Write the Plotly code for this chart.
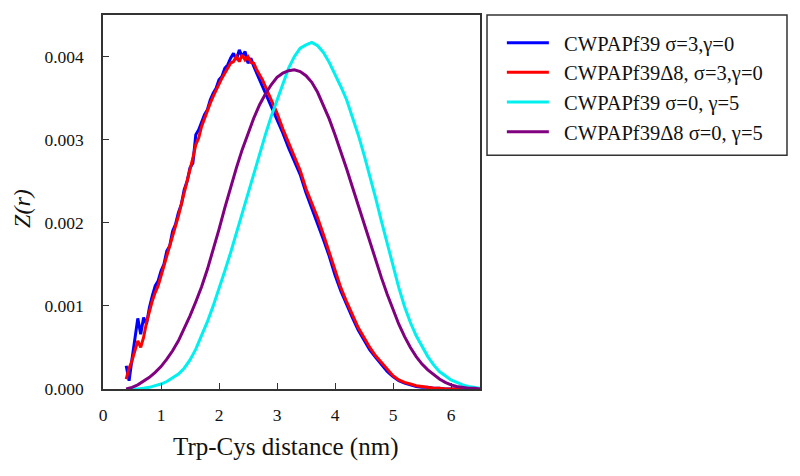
import plotly.graph_objects as go

# ---- data ----
x_blue = [0.40, 0.45, 0.50, 0.55, 0.60, 0.65, 0.70, 0.75, 0.80, 0.85, 0.90, 0.95,
          1.00, 1.05, 1.10, 1.15, 1.20, 1.25, 1.30, 1.35, 1.40, 1.45, 1.50, 1.55,
          1.60, 1.65, 1.70, 1.75, 1.80, 1.85, 1.90, 1.95, 2.00, 2.05, 2.10, 2.15,
          2.20, 2.25, 2.30, 2.35, 2.40, 2.45, 2.50, 2.55, 2.60, 2.65, 2.70, 2.75,
          2.80, 2.85, 2.90, 2.95, 3.00,
          3.1, 3.2, 3.3, 3.4, 3.5, 3.6, 3.7, 3.8, 3.9, 4.0, 4.1, 4.2, 4.3, 4.4,
          4.5, 4.6, 4.7, 4.8, 4.9, 5.0, 5.1, 5.2, 5.3, 5.4, 5.5, 5.6, 5.7, 5.8,
          5.9, 6.0, 6.1, 6.2, 6.3, 6.4, 6.5]
y_blue = [0.00028, 0.00010, 0.00036, 0.00058, 0.00085, 0.00066, 0.00086, 0.00078,
          0.00098, 0.00112, 0.00124, 0.00130, 0.00142, 0.00150, 0.00166, 0.00172,
          0.00190, 0.00198, 0.00212, 0.00222, 0.00240, 0.00250, 0.00266, 0.00272,
          0.00306, 0.00312, 0.00322, 0.00330, 0.00336, 0.00348, 0.00356, 0.00362,
          0.00372, 0.00376, 0.00386, 0.00390, 0.00398, 0.00404, 0.00396, 0.00408,
          0.00400, 0.00406, 0.00392, 0.00398, 0.00388, 0.00380, 0.00372, 0.00366,
          0.00356, 0.00350, 0.00340, 0.00334, 0.00326,
          0.00308, 0.00290, 0.00274, 0.00258, 0.00236, 0.00218, 0.00200, 0.00180,
          0.00160, 0.00137, 0.00118, 0.00101, 0.00086, 0.00071, 0.00059, 0.00047,
          0.00038, 0.00030, 0.00021, 0.00015, 0.00010, 0.00007, 0.00005, 0.00003,
          0.00002, 0.00002, 0.00001, 0.00001, 0.0, 0.0, 0.0, 0.0, 0.0, 0.0, 0.0]

x_red = list(x_blue)
y_red = [0.00012, 0.00025, 0.00034, 0.00045, 0.00058, 0.00050, 0.00062, 0.00080,
         0.00094, 0.00106, 0.00116, 0.00124, 0.00136, 0.00148, 0.00160, 0.00170,
         0.00184, 0.00194, 0.00208, 0.00222, 0.00236, 0.00250, 0.00262, 0.00278,
         0.00294, 0.00302, 0.00316, 0.00326, 0.00334, 0.00344, 0.00352, 0.00360,
         0.00366, 0.00374, 0.00380, 0.00386, 0.00392, 0.00394, 0.00400, 0.00394,
         0.00402, 0.00396, 0.00400, 0.00393, 0.00392, 0.00384, 0.00378, 0.00372,
         0.00364, 0.00356, 0.00348, 0.00340, 0.00332,
         0.00313, 0.00296, 0.00280, 0.00263, 0.00241, 0.00224, 0.00206, 0.00186,
         0.00165, 0.00142, 0.00122, 0.00105, 0.00090, 0.00074, 0.00062, 0.00050,
         0.00040, 0.00032, 0.00023, 0.00016, 0.00011, 0.00008, 0.00006, 0.00004,
         0.00003, 0.00002, 0.00001, 0.00001, 0.0, 0.0, 0.0, 0.0, 0.0, 0.0, 0.0]

x_cyan = [0.5, 0.6, 0.7, 0.8, 0.9, 1.0, 1.1, 1.2, 1.3, 1.4, 1.5, 1.6, 1.7, 1.8,
          1.9, 2.0, 2.1, 2.2, 2.3, 2.4, 2.5, 2.6, 2.7, 2.8, 2.9, 3.0, 3.1, 3.2,
          3.3, 3.4, 3.5, 3.6, 3.7, 3.8, 3.9, 4.0, 4.1, 4.2, 4.3, 4.4, 4.5, 4.6,
          4.7, 4.8, 4.9, 5.0, 5.1, 5.2, 5.3, 5.4, 5.5, 5.6, 5.7, 5.8, 5.9, 6.0,
          6.1, 6.2, 6.3, 6.4, 6.5]
y_cyan = [0.0, 0.0, 0.00001, 0.00002, 0.00004, 0.00006, 0.00009, 0.00013, 0.00018,
          0.00025, 0.00035, 0.00048, 0.00064, 0.00081, 0.00100, 0.00120, 0.00142,
          0.00164, 0.00188, 0.00212, 0.00236, 0.00260, 0.00284, 0.00306, 0.00328,
          0.00348, 0.00368, 0.00386, 0.00400, 0.00410, 0.00414, 0.00417, 0.00413,
          0.00405, 0.00393, 0.00379, 0.00364, 0.00348, 0.00328, 0.00306, 0.00282,
          0.00257, 0.00230, 0.00202, 0.00175, 0.00148, 0.00122, 0.00099, 0.00080,
          0.00064, 0.00051, 0.00039, 0.00029, 0.00021, 0.00016, 0.00011, 0.00008,
          0.00005, 0.00003, 0.00002, 0.00001]

x_purple = [0.4, 0.5, 0.6, 0.7, 0.8, 0.9, 1.0, 1.1, 1.2, 1.3, 1.4, 1.5, 1.6, 1.7,
            1.8, 1.9, 2.0, 2.1, 2.2, 2.3, 2.4, 2.5, 2.6, 2.7, 2.8, 2.9, 3.0, 3.1,
            3.2, 3.3, 3.4, 3.5, 3.6, 3.7, 3.8, 3.9, 4.0, 4.1, 4.2, 4.3, 4.4, 4.5,
            4.6, 4.7, 4.8, 4.9, 5.0, 5.1, 5.2, 5.3, 5.4, 5.5, 5.6, 5.7, 5.8, 5.9,
            6.0, 6.1, 6.2, 6.3, 6.4, 6.5]
y_purple = [0.0, 0.00002, 0.00005, 0.00009, 0.00014, 0.00020, 0.00027, 0.00036,
            0.00046, 0.00058, 0.00072, 0.00088, 0.00105, 0.00123, 0.00144, 0.00167,
            0.00192, 0.00218, 0.00243, 0.00266, 0.00288, 0.00308, 0.00326, 0.00342,
            0.00355, 0.00366, 0.00375, 0.00380, 0.00383, 0.00384, 0.00382, 0.00377,
            0.00369, 0.00357, 0.00342, 0.00325, 0.00306, 0.00286, 0.00265, 0.00243,
            0.00221, 0.00199, 0.00177, 0.00155, 0.00134, 0.00114, 0.00095, 0.00078,
            0.00063, 0.00050, 0.00039, 0.00030, 0.00023, 0.00017, 0.00012, 0.00008,
            0.00005, 0.00003, 0.00002, 0.00001, 0.00001, 0.0]

names = ["CWPAPf39 σ=3,γ=0", "CWPAPf39Δ8, σ=3,γ=0",
         "CWPAPf39 σ=0, γ=5", "CWPAPf39Δ8 σ=0, γ=5"]
colors = ["#0000FF", "#FF0000", "#00F0F0", "#800080"]
x_ticks = [0, 1, 2, 3, 4, 5, 6]
y_ticks = [0.000, 0.001, 0.002, 0.003, 0.004]

FONT = "Liberation Serif, Times New Roman, serif"
PAD = "\u00a0\u00a0"

fig = go.Figure()
series = [(x_blue, y_blue), (x_red, y_red), (x_cyan, y_cyan), (x_purple, y_purple)]
for (xs, ys), nm, col in zip(series, names, colors):
    fig.add_trace(go.Scatter(x=xs, y=ys, mode="lines", name=PAD + nm,
                             line=dict(color=col, width=3)))

axis_common = dict(showline=True, linecolor="#333333", linewidth=1.5, mirror=True,
                   ticks="inside", ticklen=6, tickwidth=1.3, tickcolor="#333333",
                   showgrid=False, zeroline=False,
                   tickfont=dict(family=FONT, size=17.5, color="#111111"))

fig.update_xaxes(range=[0, 6.5], tickvals=x_ticks, ticklabelstandoff=9, **axis_common)
fig.update_yaxes(range=[0, 0.0045], tickvals=y_ticks, tickformat=".3f",
                 ticklabelstandoff=14, **axis_common)

fig.add_annotation(text="Trp-Cys distance (nm)", xref="paper", yref="paper",
                   x=0.483, y=-0.155, xanchor="center", yanchor="middle",
                   showarrow=False, font=dict(family=FONT, size=25, color="#111111"))
fig.add_annotation(text="<i>Z(r)</i>", xref="paper", yref="paper",
                   x=-0.215, y=0.484, xanchor="center", yanchor="middle",
                   showarrow=False, textangle=-90,
                   font=dict(family=FONT, size=24, color="#111111"))

# legend frame
fig.add_shape(type="rect", xref="paper", yref="paper",
              x0=1.0186, x1=1.8143, y0=0.625, y1=1.0,
              line=dict(color="#333333", width=1.5), fillcolor="rgba(0,0,0,0)")

fig.update_layout(
    width=792, height=468,
    margin=dict(l=95, r=320, t=5, b=87),
    paper_bgcolor="white", plot_bgcolor="white",
    showlegend=True,
    legend=dict(x=1.058, y=0.979, xanchor="left", yanchor="top",
                bgcolor="rgba(0,0,0,0)", borderwidth=0,
                font=dict(family=FONT, size=20.5, color="#111111"),
                itemwidth=42),
)

fig.write_html("out.html")
